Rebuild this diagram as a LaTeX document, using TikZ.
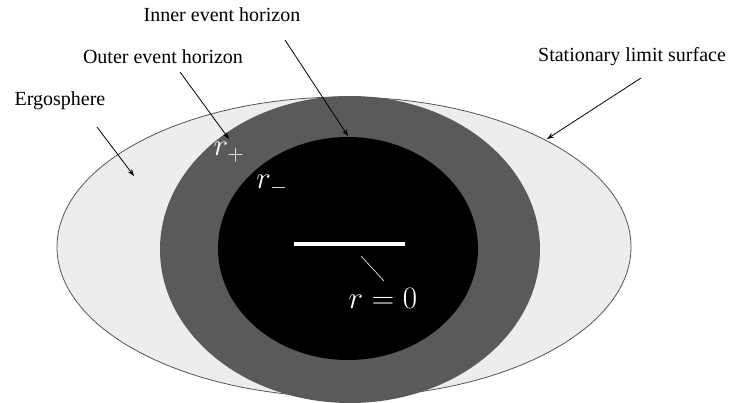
\documentclass[tikz,border=0pt]{standalone}
\usepackage[no-math]{fontspec}
\setmainfont{Liberation Serif}
\usetikzlibrary{arrows.meta}
\definecolor{ergo}{HTML}{EDEDED}
\definecolor{horizon}{HTML}{5A5A5A}
\definecolor{rim}{HTML}{555555}
\begin{document}
\begin{tikzpicture}[x=1pt,y=-1pt,
  lbl/.style={font=\fontsize{20}{24}\selectfont, inner sep=0pt},
  mlbl/.style={text=white, font=\fontsize{20}{24}\selectfont, scale=1.5, inner sep=0pt},
  pointer/.style={draw=black, line width=0.8pt, -{Stealth[length=7pt,width=5pt]}}]
\useasboundingbox (0,0) rectangle (731,403);
% shapes
\draw[fill=ergo, draw=rim, line width=0.8pt] (344,247) ellipse [x radius=287, y radius=150];
\fill[horizon] (350,249.5) ellipse [x radius=190, y radius=153.5];
\fill[black] (348,248.5) ellipse [x radius=130, y radius=111.5];
\draw[white, line width=4pt] (294,244) -- (405,244);
% math labels
\node[mlbl] (rp) at (229,152) {$r_+$};
\node[mlbl] (rm) at (272,185) {$r_-$};
\node[mlbl] (r0) at (383,298) {$r=0$};
\coordinate (r0a) at (361,256);
\coordinate (r0b) at (384,281);
\draw[white, line width=0.6pt] (r0a) -- (r0b);
% text labels
\node[lbl] (inner) at (222,15) {Inner event horizon};
\node[lbl] (outer) at (163,57) {Outer event horizon};
\node[lbl] (ergo) at (60,101) {Ergosphere};
\node[lbl] (stat) at (632,57) {Stationary limit surface};
% pointer coordinates
\coordinate (ia) at (285,40);  \coordinate (ib) at (348,136);
\coordinate (oa) at (180,72);  \coordinate (ob) at (229,139);
\coordinate (ea) at (97,127);  \coordinate (eb) at (134,176);
\coordinate (sa) at (641,78);  \coordinate (sb) at (547,139);
\draw[pointer] (ia) -- (ib);
\draw[pointer] (oa) -- (ob);
\draw[pointer] (ea) -- (eb);
\draw[pointer] (sa) -- (sb);
\end{tikzpicture}
\end{document}
